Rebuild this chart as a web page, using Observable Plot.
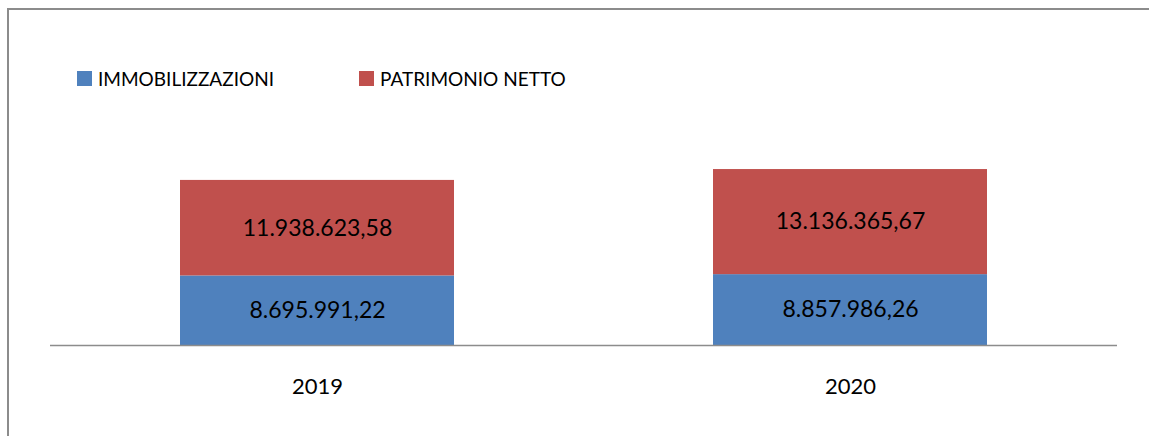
<!DOCTYPE html>
<html>
<head>
<meta charset="utf-8">
<script src="https://cdn.jsdelivr.net/npm/d3@7"></script>
<script src="https://cdn.jsdelivr.net/npm/@observablehq/plot@0.6"></script>
<style>
  html, body { margin: 0; padding: 0; overflow: hidden; background: #fff; }
  #wrap { position: relative; width: 1149px; height: 436px; overflow: hidden; font-family: Lato, "Open Sans", sans-serif; }
  #frame { position: absolute; left: 7px; top: 8px; width: 1300px; height: 600px; border: 2px solid #8c8c8c; box-sizing: border-box; z-index: 5; pointer-events: none; }
  #legend { position: relative; height: 110px; }
  .item { position: absolute; top: 71px; display: flex; align-items: center; height: 15px; font-size: 19px; color: #000; white-space: nowrap; }
  .sw { width: 15px; height: 15px; margin-right: 6px; flex: none; }
</style>
</head>
<body>
<div id="wrap">
  <div id="frame"></div>
  <div id="legend"></div>
  <div id="chart"></div>
</div>
<script>
const years = ["2019", "2020"];
const seriesNames = ["IMMOBILIZZAZIONI", "PATRIMONIO NETTO"];
const seriesColors = ["#4F81BD", "#C0504D"];
const immobilizzazioni = [8695991.22, 8857986.26];
const patrimonioNetto = [11938623.58, 13136365.67];

const fmt = v => {
  const [i, d] = v.toFixed(2).split(".");
  return i.replace(/\B(?=(\d{3})+(?!\d))/g, ".") + "," + d;
};

const rows = [];
years.forEach((y, i) => {
  rows.push({year: y, series: seriesNames[0], value: immobilizzazioni[i]});
  rows.push({year: y, series: seriesNames[1], value: patrimonioNetto[i]});
});

// legend
const legend = document.getElementById("legend");
const legendX = [77, 359];
seriesNames.forEach((name, i) => {
  const it = document.createElement("div");
  it.className = "item";
  it.style.left = legendX[i] + "px";
  const sw = document.createElement("div");
  sw.className = "sw";
  sw.style.background = seriesColors[i];
  const t = document.createElement("span");
  t.textContent = name;
  it.appendChild(sw);
  it.appendChild(t);
  legend.appendChild(it);
});

const chart = Plot.plot({
  width: 1149,
  height: 326,
  marginLeft: 50,
  marginRight: 32,
  marginTop: 20,
  marginBottom: 91,
  style: {background: "transparent", fontFamily: "Lato, 'Open Sans', sans-serif"},
  x: {domain: years, paddingInner: 0.485, paddingOuter: 0.2425, axis: null, label: null},
  y: {domain: [0, 26875000], axis: null},
  color: {domain: seriesNames, range: seriesColors},
  marks: [
    Plot.barY(rows, Plot.stackY({x: "year", y: "value", fill: "series", order: seriesNames})),
    Plot.text(rows, Plot.stackY({x: "year", y: "value", z: "series", order: seriesNames, text: d => fmt(d.value), fill: "#000", fontSize: 23})),
    Plot.ruleY([0], {stroke: "#8c8c8c", strokeWidth: 1.5}),
    Plot.axisX({tickSize: 0, tickPadding: 33, fontSize: 22, fill: "#000", color: "#000", label: null})
  ]
});
document.getElementById("chart").appendChild(chart);
</script>
</body>
</html>
